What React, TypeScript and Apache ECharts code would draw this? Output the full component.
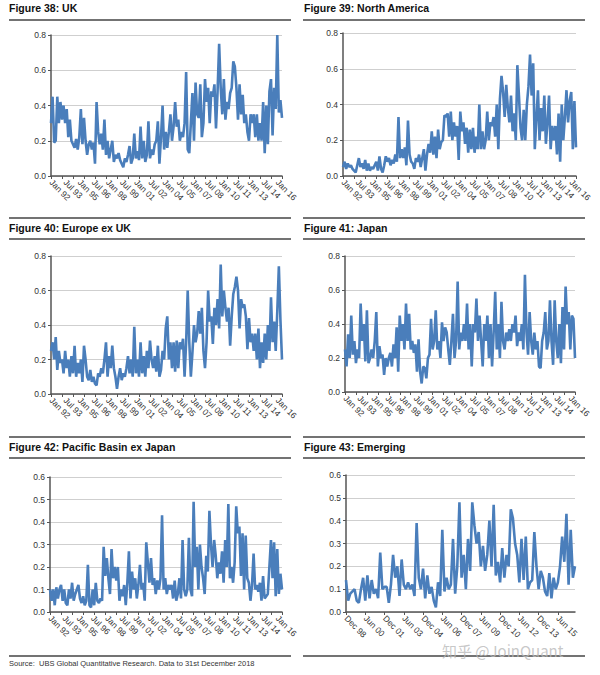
import React, { useEffect, useRef } from "react";
import * as echarts from "echarts";

// Bi-monthly readings, Jan 92 onwards
const ukValues = [
  0.30, 0.45, 0.19, 0.20, 0.45, 0.30, 0.42, 0.32, 0.40, 0.30, 0.38,
  0.22, 0.32, 0.20, 0.18, 0.16, 0.21, 0.15, 0.22,
  0.38, 0.18, 0.33, 0.20, 0.12, 0.18, 0.20, 0.15, 0.19, 0.07, 0.42,
  0.25, 0.18, 0.24, 0.15, 0.32, 0.12, 0.20, 0.10,
  0.15, 0.20, 0.08, 0.12, 0.10, 0.13, 0.09, 0.07, 0.05, 0.10, 0.08, 0.12, 0.17, 0.07, 0.10,
  0.24, 0.10, 0.14, 0.09, 0.28, 0.10, 0.20, 0.08, 0.12, 0.31, 0.10, 0.15, 0.12, 0.18, 0.20, 0.31, 0.07,
  0.22, 0.40, 0.15, 0.25, 0.16, 0.25, 0.35, 0.20, 0.28, 0.42, 0.28, 0.32, 0.20, 0.25, 0.22, 0.30, 0.59,
  0.15, 0.13, 0.30, 0.47, 0.20, 0.53, 0.35, 0.33, 0.52, 0.22, 0.30, 0.55, 0.42, 0.50, 0.30, 0.48, 0.45,
  0.52, 0.27, 0.48, 0.75, 0.50, 0.35, 0.55, 0.32, 0.42, 0.38, 0.47, 0.50, 0.65, 0.62, 0.50, 0.32, 0.52,
  0.35, 0.46, 0.30, 0.35, 0.25, 0.20, 0.35, 0.30, 0.35, 0.22, 0.35, 0.20, 0.30, 0.20, 0.42, 0.13, 0.40,
  0.18, 0.48, 0.55, 0.23, 0.50, 0.38, 0.80, 0.36, 0.43, 0.33,
];

const northAmericaValues = [
  0.05, 0.08, 0.04, 0.07, 0.05, 0.06, 0.04, 0.03, 0.02, 0.06, 0.10, 0.05, 0.07, 0.04, 0.09, 0.03, 0.07,
  0.03, 0.05, 0.04, 0.06, 0.08, 0.03, 0.11, 0.04, 0.02, 0.06, 0.11, 0.08, 0.10, 0.06, 0.09, 0.07, 0.12, 0.08,
  0.33, 0.10, 0.15, 0.10, 0.16, 0.06, 0.31, 0.12, 0.08, 0.07, 0.04, 0.10, 0.08, 0.12, 0.05, 0.10, 0.15,
  0.03, 0.12, 0.18, 0.13, 0.25,
  0.12, 0.22, 0.10, 0.26, 0.15, 0.19, 0.20, 0.34, 0.33, 0.35, 0.22, 0.36, 0.20, 0.30, 0.22, 0.28, 0.09,
  0.36, 0.25, 0.30, 0.18, 0.27, 0.13, 0.26, 0.15,
  0.27, 0.13, 0.22, 0.15, 0.40, 0.15, 0.25, 0.15, 0.20, 0.36, 0.20, 0.30, 0.28, 0.33, 0.22, 0.40, 0.15,
  0.43, 0.56, 0.47, 0.33, 0.51, 0.38, 0.30, 0.45, 0.25, 0.35, 0.20, 0.62, 0.45, 0.27, 0.20, 0.37, 0.20,
  0.40, 0.50, 0.68, 0.45,
  0.63, 0.15, 0.32, 0.48, 0.20, 0.38, 0.25, 0.45, 0.18, 0.30, 0.45, 0.15, 0.28, 0.20, 0.28, 0.12, 0.35,
  0.08, 0.40, 0.20, 0.33, 0.48, 0.30, 0.42, 0.47, 0.15, 0.42, 0.16,
];

const europeExUkValues = [
  0.25, 0.30, 0.20, 0.33, 0.14, 0.25, 0.18, 0.20, 0.12, 0.25, 0.15, 0.20, 0.10, 0.22, 0.12, 0.28, 0.10,
  0.18, 0.12,
  0.20, 0.07, 0.28, 0.20, 0.10, 0.08, 0.14, 0.07, 0.10, 0.06, 0.05, 0.12, 0.10, 0.15, 0.12, 0.20, 0.30, 0.10,
  0.22, 0.15, 0.28, 0.15, 0.10, 0.03, 0.10, 0.15, 0.08, 0.12, 0.10, 0.15, 0.22, 0.12, 0.20, 0.10, 0.39,
  0.12, 0.20, 0.10, 0.30, 0.12, 0.22, 0.10, 0.25, 0.15, 0.31, 0.20, 0.15, 0.22, 0.13, 0.28, 0.10, 0.14,
  0.25, 0.20, 0.38, 0.45, 0.20, 0.30, 0.15, 0.30, 0.13, 0.31, 0.15, 0.30, 0.26, 0.32, 0.10, 0.30, 0.60,
  0.30, 0.10, 0.24, 0.40, 0.30, 0.35, 0.48, 0.35, 0.50, 0.25, 0.15, 0.30, 0.60, 0.42, 0.45, 0.29, 0.50,
  0.40, 0.55, 0.38, 0.75, 0.45, 0.60, 0.50, 0.42, 0.50, 0.28, 0.45, 0.58, 0.62, 0.68, 0.60, 0.38, 0.55,
  0.50, 0.52, 0.45, 0.26, 0.44, 0.30, 0.35, 0.25, 0.35, 0.20, 0.38, 0.15, 0.30, 0.18, 0.35, 0.20, 0.40,
  0.25, 0.56, 0.30, 0.42, 0.25, 0.48, 0.74, 0.43, 0.20,
];

const japanValues = [
  0.25, 0.15, 0.34, 0.20, 0.45, 0.22, 0.30, 0.17, 0.25, 0.20, 0.52, 0.30, 0.40, 0.18, 0.48, 0.17, 0.20, 0.25,
  0.20, 0.30, 0.47, 0.15, 0.27, 0.20, 0.22, 0.10, 0.20, 0.15, 0.20, 0.23, 0.15, 0.28, 0.20, 0.38, 0.12, 0.45,
  0.30, 0.40, 0.25, 0.52, 0.30, 0.46, 0.25, 0.30, 0.23, 0.28, 0.12, 0.31, 0.12, 0.05, 0.15, 0.14, 0.08,
  0.20, 0.22, 0.43, 0.25, 0.30, 0.48, 0.25, 0.30, 0.20, 0.41, 0.30, 0.38, 0.35, 0.25, 0.16, 0.30, 0.46,
  0.20, 0.30, 0.65, 0.25, 0.35, 0.30, 0.40, 0.30, 0.52, 0.25, 0.40, 0.15, 0.40, 0.35, 0.55, 0.30, 0.45,
  0.30, 0.15, 0.40, 0.30, 0.45, 0.20, 0.40, 0.15, 0.35, 0.59, 0.25, 0.40, 0.20, 0.53, 0.30, 0.25, 0.35,
  0.30, 0.37, 0.30, 0.40, 0.35, 0.45, 0.27, 0.35, 0.30, 0.40, 0.25, 0.69, 0.35, 0.22, 0.47, 0.30, 0.22,
  0.35, 0.25, 0.30, 0.15, 0.14, 0.30, 0.35, 0.47, 0.25, 0.30, 0.54, 0.30, 0.16, 0.54, 0.30, 0.20, 0.40,
  0.17, 0.50, 0.25, 0.62, 0.40, 0.47, 0.25, 0.45, 0.43, 0.20,
];

const pacificExJapanValues = [
  0.10, 0.05, 0.10, 0.03, 0.11, 0.06, 0.10, 0.12, 0.05, 0.10, 0.04, 0.03, 0.10, 0.06, 0.13, 0.05, 0.08,
  0.10, 0.12,
  0.06, 0.04, 0.07, 0.03, 0.05, 0.21, 0.03, 0.02, 0.10, 0.03, 0.13, 0.05, 0.04, 0.06, 0.05, 0.29, 0.16,
  0.24, 0.15, 0.08, 0.28, 0.15, 0.20, 0.14, 0.20, 0.05, 0.10, 0.07, 0.12, 0.03, 0.13, 0.27, 0.06, 0.18,
  0.10, 0.15, 0.06, 0.12, 0.21, 0.10, 0.13, 0.05, 0.31, 0.22, 0.13, 0.24, 0.12, 0.15, 0.08, 0.14, 0.10,
  0.15, 0.43, 0.10, 0.15, 0.08, 0.12, 0.10, 0.12, 0.06, 0.14, 0.05, 0.08, 0.15, 0.06, 0.32, 0.10, 0.07,
  0.10, 0.33, 0.10, 0.07, 0.49, 0.20, 0.29, 0.10, 0.30, 0.20, 0.15, 0.08, 0.25, 0.18, 0.45, 0.30, 0.20,
  0.32, 0.25, 0.15, 0.22, 0.17, 0.27, 0.13, 0.32, 0.20, 0.48, 0.15, 0.20, 0.13, 0.22, 0.47, 0.35, 0.38,
  0.16, 0.35, 0.10, 0.34, 0.15, 0.13, 0.05, 0.12, 0.26, 0.10, 0.12, 0.09, 0.13, 0.05, 0.16, 0.06, 0.07,
  0.08, 0.20, 0.32, 0.15, 0.31, 0.07, 0.28, 0.08, 0.17, 0.10,
];

// Bi-monthly readings, Dec 98 onwards
const emergingValues = [
  0.14, 0.05, 0.08, 0.09, 0.10, 0.05, 0.04, 0.10, 0.15, 0.05, 0.16, 0.06, 0.14, 0.08, 0.10, 0.06, 0.26,
  0.10, 0.11,
  0.11, 0.04, 0.12, 0.25, 0.15, 0.20, 0.07, 0.23, 0.12, 0.10, 0.13, 0.10, 0.12, 0.07, 0.39, 0.15, 0.10,
  0.19, 0.06, 0.16, 0.08, 0.11, 0.05, 0.02, 0.13, 0.07, 0.36, 0.09, 0.15, 0.10, 0.12, 0.32, 0.08, 0.20,
  0.48, 0.15,
  0.25, 0.10, 0.32, 0.18, 0.48, 0.38, 0.30, 0.35, 0.20, 0.29, 0.18, 0.25, 0.40, 0.20, 0.47, 0.16, 0.22,
  0.13,
  0.28, 0.15, 0.25, 0.20, 0.45, 0.41, 0.30, 0.25, 0.13, 0.32, 0.14, 0.33, 0.10, 0.13, 0.14, 0.35, 0.20,
  0.10, 0.18,
  0.15, 0.09, 0.07, 0.17, 0.06, 0.15, 0.10, 0.13, 0.20, 0.33, 0.22, 0.43, 0.12, 0.36, 0.15, 0.20,
];

const panelTitles = [
  "Figure 38: UK",
  "Figure 39: North America",
  "Figure 40: Europe ex UK",
  "Figure 41: Japan",
  "Figure 42: Pacific Basin ex Japan",
  "Figure 43: Emerging",
];
const yAxisMax = [0.8, 0.8, 0.8, 0.8, 0.6, 0.6];
const yAxisStep = [0.2, 0.2, 0.2, 0.2, 0.1, 0.1];
const developedTickLabels = [
  "Jan 92", "Jul 93", "Jan 95", "Jul 96", "Jan 98", "Jul 99", "Jan 01", "Jul 02", "Jan 04",
  "Jul 05", "Jan 07", "Jul 08", "Jan 10", "Jul 11", "Jan 13", "Jul 14", "Jan 16",
];
const emergingTickLabels = [
  "Dec 98", "Jun 00", "Dec 01", "Jun 03", "Dec 04", "Jun 06", "Dec 07", "Jun 09", "Dec 10",
  "Jun 12", "Dec 13", "Jun 15",
];
const sourceText = "Source:  UBS Global Quantitative Research. Data to 31st December 2018";

const MONTHS = ["Jan", "Feb", "Mar", "Apr", "May", "Jun", "Jul", "Aug", "Sep", "Oct", "Nov", "Dec"];
function monthCategories(startYear: number, startMonth: number, count: number, step: number) {
  const out: string[] = [];
  for (let i = 0; i < count; i++) {
    const m = startMonth + i * step;
    const y = startYear + Math.floor(m / 12);
    out.push(MONTHS[m % 12] + " " + String(y % 100).padStart(2, "0"));
  }
  return out;
}
const developedCategories = monthCategories(1992, 0, ukValues.length, 2);
const emergingCategories = monthCategories(1998, 11, emergingValues.length, 2);
const seriesValues = [ukValues, northAmericaValues, europeExUkValues, japanValues, pacificExJapanValues, emergingValues];

const FONT = "'Liberation Sans', Arial, sans-serif";
const AXIS_COLOR = "#555";
const LINE_COLOR = "#4a7ebb";

export default function App() {
  const ref = useRef<HTMLDivElement>(null);
  useEffect(() => {
    if (!ref.current) return;
    const chart = echarts.init(ref.current, undefined, { renderer: "svg" });
    const grids = [
      { left: 51, top: 35, width: 231, height: 141 },
      { left: 343, top: 33, width: 233, height: 143 },
      { left: 51, top: 256, width: 231, height: 138 },
      { left: 345, top: 256, width: 230, height: 136 },
      { left: 50, top: 477, width: 232, height: 135 },
      { left: 346, top: 475, width: 229, height: 137 },
    ];
    const titlePos = [
      [9, 8], [304, 8], [9, 228], [304, 228], [9, 447], [304, 447],
    ];
    const rules: any[] = [];
    const ruleYs = [20, 218, 239, 437, 458, 656];
    ruleYs.forEach((y) => {
      rules.push({ type: "line", shape: { x1: 9, y1: y, x2: 291, y2: y }, style: { stroke: "#444", lineWidth: 1.5 } });
      rules.push({ type: "line", shape: { x1: 303, y1: y, x2: 585, y2: y }, style: { stroke: "#444", lineWidth: 1.5 } });
    });
    const titles = panelTitles.map((t, i) => ({
      type: "text",
      x: titlePos[i][0],
      y: titlePos[i][1],
      style: { text: t, fill: "#111", font: `bold 10.5px ${FONT}`, verticalAlign: "middle", align: "left" },
    }));
    const option: any = {
      animation: false,
      backgroundColor: "#fff",
      grid: grids,
      xAxis: grids.map((_, i) => {
        const isEm = i === 5;
        const cats = isEm ? emergingCategories : developedCategories;
        const tickSet = isEm ? emergingTickLabels : developedTickLabels;
        return {
          type: "category",
          gridIndex: i,
          data: cats,
          boundaryGap: false,
          axisLine: { lineStyle: { color: AXIS_COLOR, width: 1.5 } },
          axisTick: { show: true, interval: isEm ? 8 : 6, length: 3, lineStyle: { color: AXIS_COLOR } },
          axisLabel: {
            interval: (idx: number, v: string) => idx % 9 === 0 && tickSet.indexOf(v) >= 0,
            rotate: -45,
            fontSize: 8.5,
            color: "#333",
            fontFamily: FONT,
            margin: 5,
          },
          splitLine: { show: false },
        };
      }),
      yAxis: grids.map((_, i) => ({
        type: "value",
        gridIndex: i,
        min: 0,
        max: yAxisMax[i],
        interval: yAxisStep[i],
        axisLine: { show: true, lineStyle: { color: AXIS_COLOR, width: 1.5 } },
        axisTick: { show: true, length: 3, lineStyle: { color: AXIS_COLOR } },
        axisLabel: {
          formatter: (v: number) => v.toFixed(1),
          fontSize: 8.5,
          color: "#333",
          fontFamily: FONT,
          margin: 5,
        },
        splitLine: { lineStyle: { color: "#cfcfcf", width: 1 } },
      })),
      series: seriesValues.map((vals, i) => ({
        type: "line",
        xAxisIndex: i,
        yAxisIndex: i,
        data: vals,
        showSymbol: false,
        symbol: "none",
        lineStyle: { color: LINE_COLOR, width: 2.6 },
        z: 3,
      })),
      graphic: [
        ...rules,
        ...titles,
        {
          type: "text",
          x: 9,
          y: 663,
          style: { text: sourceText, fill: "#333", font: `7.5px ${FONT}`, verticalAlign: "middle", align: "left" },
        },
        {
          type: "text",
          x: 442,
          y: 650,
          z: 10,
          style: {
            text: "知乎 @JoinQuant",
            fill: "rgba(185,185,185,0.8)",
            font: `15px 'Noto Sans CJK SC', sans-serif`,
            verticalAlign: "middle",
            align: "left",
          },
        },
      ],
    };
    chart.setOption(option);
    return () => chart.dispose();
  }, []);
  return (
    <div
      ref={ref}
      style={{ position: "absolute", left: 0, top: 0, width: 600, height: 675, background: "#fff" }}
    />
  );
}
